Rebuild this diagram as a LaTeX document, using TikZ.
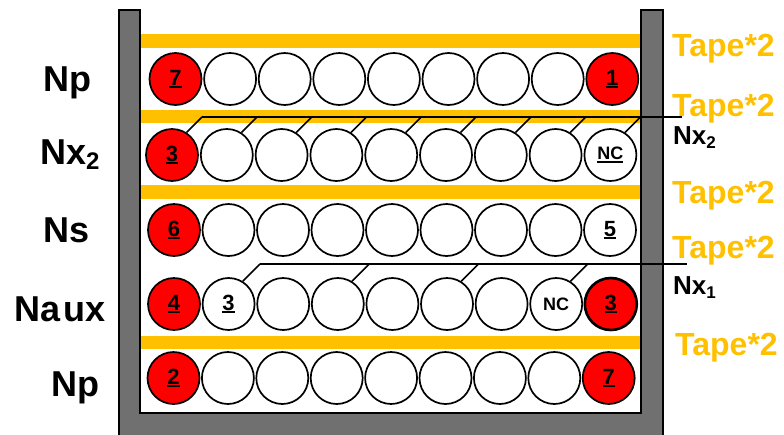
\documentclass[tikz,border=0pt]{standalone}
\usepackage{fontspec}
\setmainfont{Liberation Sans}
\usetikzlibrary{calc}
\definecolor{tapecol}{HTML}{FFC000}
\definecolor{wallcol}{HTML}{707070}
\definecolor{ballred}{HTML}{FF0000}
\newcommand\ulnum[1]{\setbox0\hbox{#1}\rlap{\rule[-2.6pt]{\wd0}{1.8pt}}\box0}
\begin{document}
\begin{tikzpicture}[x=1pt,y=-1pt,
  ball/.style={circle,draw=black,line width=1.7pt,fill=white,minimum size=52pt,inner sep=0pt,
    font=\fontsize{22}{22}\selectfont\bfseries},
  redball/.style={ball,fill=ballred},
  nctext/.style={font=\fontsize{18}{18}\selectfont\bfseries},
  rowlabel/.style={anchor=base west,inner sep=0pt,font=\fontsize{36}{36}\selectfont\bfseries},
  sidelabel/.style={anchor=base west,inner sep=0pt,font=\fontsize{26}{26}\selectfont\bfseries},
  tapelabel/.style={anchor=base west,inner sep=0pt,text=tapecol,font=\fontsize{32}{32}\selectfont\bfseries},
  leader/.style={line width=1.6pt,draw=black},
]
\useasboundingbox (0,0) rectangle (784,434);
% container
\draw[fill=wallcol,line width=1.5pt] (119,10) -- (140,10) -- (140,413) -- (641,413) -- (641,10)
  -- (663,10) -- (663,440) -- (119,440) -- cycle;
% tapes
\fill[tapecol] (141,34) rectangle (640,48);
\fill[tapecol] (141,110) rectangle (640,123);
\fill[tapecol] (141,185) rectangle (640,199);
\fill[tapecol] (141,336) rectangle (640,349);
% row 1 (Np)
\node[redball] (r1c0) at (175.5,79) {\ulnum{7}};
\foreach \i in {1,...,7} \node[ball] (r1c\i) at (175.5+54.6*\i,79) {};
\node[redball] (r1c8) at (175.5+54.6*8,79) {\ulnum{1}};
% row 2 (Nx2)
\node[redball] (r2c0) at (172,155) {\ulnum{3}};
\foreach \i in {1,...,7} \node[ball] (r2c\i) at (172+54.8*\i,155) {};
\node[ball,nctext] (r2c8) at (172+54.8*8,155) {\ulnum{NC}};
% row 3 (Ns)
\node[redball] (r3c0) at (174,230) {\ulnum{6}};
\foreach \i in {1,...,7} \node[ball] (r3c\i) at (174+54.5*\i,230) {};
\node[ball] (r3c8) at (174+54.5*8,230) {\ulnum{5}};
% row 4 (Naux)
\node[redball] (r4c0) at (174,304) {\ulnum{4}};
\node[ball] (r4c1) at (174+54.6,304) {\ulnum{3}};
\foreach \i in {2,...,6} \node[ball] (r4c\i) at (174+54.6*\i,304) {};
\node[ball,nctext] (r4c7) at (174+54.6*7,304) {NC};
\node[redball,line width=2.6pt] (r4c8) at (174+54.6*8,304) {\ulnum{3}};
% row 5 (Np)
\node[redball] (r5c0) at (173.5,378) {\ulnum{2}};
\foreach \i in {1,...,7} \node[ball] (r5c\i) at (173.5+54.4*\i,378) {};
\node[redball] (r5c8) at (173.5+54.4*8,378) {\ulnum{7}};
% Nx2 leader
\foreach \i in {0,...,8} {
  \path (r2c\i.57) ++(15.6,-15.6) coordinate (t2-\i);
  \draw[leader] (r2c\i.57) -- (t2-\i);
}
\coordinate (nx2end) at (682,117);
\draw[leader] (t2-0) -- (t2-0 -| nx2end);
% Nx1 leader
\foreach \i in {1,3,5,7} {
  \path (r4c\i.58) ++(17.3,-17.3) coordinate (t4-\i);
  \draw[leader] (r4c\i.58) -- (t4-\i);
}
\coordinate (nx1end) at (687,264);
\draw[leader] (t4-1) -- (t4-1 -| nx1end);
% left labels
\node[rowlabel] (lnp1) at (43,91) {Np};
\node[rowlabel] (lnx2) at (40,164) {Nx\raisebox{-5pt}{\fontsize{24}{24}\selectfont 2}};
\node[rowlabel] (lns) at (43,242) {Ns};
\node[rowlabel] (lnaux) at (14,321) {Na\kern3pt ux};
\node[rowlabel] (lnp2) at (51,396) {Np};
% right labels
\node[sidelabel] (rnx2) at (673,144) {Nx\raisebox{-4pt}{\fontsize{17}{17}\selectfont 2}};
\node[sidelabel] (rnx1) at (673,294) {Nx\raisebox{-4pt}{\fontsize{17}{17}\selectfont 1}};
\node[tapelabel] (tp1) at (672,56) {Tape*2};
\node[tapelabel] (tp2) at (672,116) {Tape*2};
\node[tapelabel] (tp3) at (672,203) {Tape*2};
\node[tapelabel] (tp4) at (672,258) {Tape*2};
\node[tapelabel] (tp5) at (675,355) {Tape*2};
\end{tikzpicture}
\end{document}
